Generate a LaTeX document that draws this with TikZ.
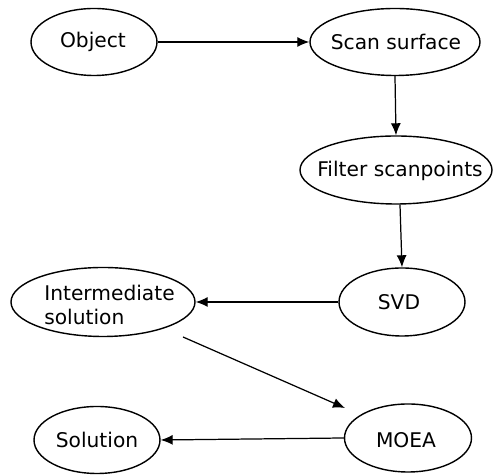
\documentclass[tikz,border=0pt]{standalone}
\usepackage{fontspec}
\setmainfont{DejaVu Sans}
\usepackage{tikz}
\usetikzlibrary{shapes.geometric,arrows.meta}

\begin{document}
\begin{tikzpicture}[
        >={Latex[length=2.4mm,width=2mm]},
        ell/.style={draw,ellipse,line width=0.8pt,inner sep=0pt},
        txt/.style={font=\fontsize{11.5pt}{13.7pt}\selectfont,inner sep=0pt},
        arr/.style={line width=0.7pt,->}
    ]
        % Fix the page size
        \useasboundingbox (0,0) rectangle (9.86,9.5);

        % Draw the ellipses
        \node[ell,minimum width=2.52cm,minimum height=1.34cm] (object) at (1.88,8.66) {};
        \node[ell,minimum width=3.4cm,minimum height=1.34cm] (scan) at (7.9,8.66) {};
        \node[ell,minimum width=3.84cm,minimum height=1.36cm] (filter) at (7.92,6.1) {};
        \node[ell,minimum width=2.52cm,minimum height=1.36cm] (svd) at (8.04,3.46) {};
        \node[ell,minimum width=3.68cm,minimum height=1.38cm] (inter) at (2.06,3.46) {};
        \node[ell,minimum width=2.54cm,minimum height=1.36cm] (moea) at (8.16,0.74) {};
        \node[ell,minimum width=2.52cm,minimum height=1.34cm] (solution) at (1.94,0.70) {};

        % Label the ellipses
        \node[txt] (object-t) at (1.86,8.66) {Object};
        \node[txt] (scan-t) at (7.92,8.66) {Scan surface};
        \node[txt] (filter-t) at (8.0,6.08) {Filter scanpoints};
        \node[txt] (svd-t) at (7.98,3.46) {SVD};
        \node[txt,align=left] (inter-t) at (2.19,3.40) {Intermediate\\solution};
        \node[txt] (moea-t) at (8.12,0.70) {MOEA};
        \node[txt] (solution-t) at (1.94,0.70) {Solution};

        % Draw the arrows
        \draw[arr] (object) -- (scan);
        \draw[arr] (scan.south) -- (filter.north);
        \draw[arr] ([xshift=0.08cm]filter.south) -- (svd.north);
        \draw[arr] (svd.west) -- (inter.east);
        \draw[arr] ([shift={(1.6,-0.7)}]inter.center) -- ([shift={(-1.26,0.6)}]moea.center);
        \draw[arr] (moea.west) -- (solution.east);
    \end{tikzpicture}
\end{document}
